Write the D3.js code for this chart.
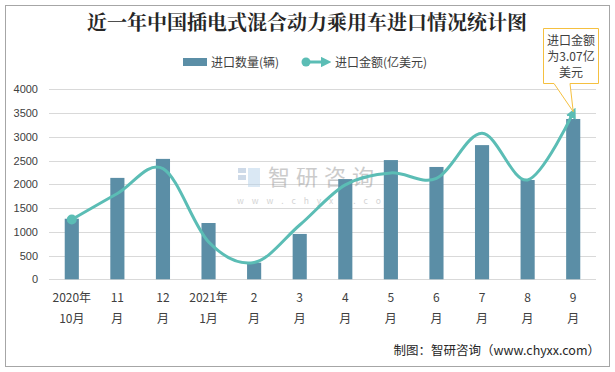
<!DOCTYPE html>
<html><head><meta charset="utf-8">
<script src="https://cdn.jsdelivr.net/npm/d3@7/dist/d3.min.js"></script>
<style>
html,body{margin:0;padding:0;background:#fff;}
svg{display:block;font-family:"Microsoft YaHei","Noto Sans CJK SC",sans-serif;}
</style></head>
<body>
<script>
const categories = [["2020年","10月"],["11","月"],["12","月"],["2021年","1月"],["2","月"],["3","月"],["4","月"],["5","月"],["6","月"],["7","月"],["8","月"],["9","月"]];
const quantity = [1275, 2135, 2535, 1185, 350, 955, 2110, 2510, 2365, 2825, 2090, 3375];
const amount = [1.10, 1.58, 2.04, 0.69, 0.31, 1.00, 1.74, 1.96, 1.86, 2.69, 1.83, 3.07];
const yTicks = [0, 500, 1000, 1500, 2000, 2500, 3000, 3500, 4000];
const titleText = "近一年中国插电式混合动力乘用车进口情况统计图";
const legendNames = ["进口数量(辆)", "进口金额(亿美元)"];
const calloutLines = ["进口金额", "为3.07亿", "美元"];
const sourceText = "制图：智研咨询（www.chyxx.com）";

(function(){
const W = 615, H = 372;
const svg = d3.select("body").append("svg").attr("width", W).attr("height", H);
const defs = svg.append("defs");
defs.append("marker").attr("id","arrow").attr("viewBox","0 0 10 10")
  .attr("refX",5).attr("refY",5).attr("markerWidth",3.6).attr("markerHeight",3.6)
  .attr("orient","auto").attr("markerUnits","strokeWidth")
  .append("path").attr("d","M0,0 L10,5 L0,10 z").attr("fill","#5bbdb5");

svg.append("rect").attr("x",5.5).attr("y",5.5).attr("width",604).attr("height",361)
  .attr("fill","#fff").attr("stroke","#a6a6a6").attr("stroke-width",1);

const pl = 49, pr = 596, pt = 89.3, pb = 279.3;
const x = d3.scaleBand().domain(d3.range(categories.length)).range([pl, pr]).paddingInner(0.69).paddingOuter(0.345);
const y = d3.scaleLinear().domain([0, 4000]).range([pb, pt]);
const y2 = d3.scaleLinear().domain([0, 3.5]).range([pb, pt]);

svg.append("g").selectAll("line").data(yTicks).join("line")
  .attr("x1", pl).attr("x2", pr)
  .attr("y1", d => Math.round(y(d))+0.5).attr("y2", d => Math.round(y(d))+0.5)
  .attr("stroke","#d9d9d9").attr("stroke-width",1);

const yAxis = d3.axisLeft(y).tickValues(yTicks).tickSize(0).tickPadding(0).tickFormat(d3.format("d"));
const ga = svg.append("g").attr("transform",`translate(38,0)`).call(yAxis);
ga.select(".domain").remove();
ga.selectAll("text").attr("fill","#404040").style("font-size","11px").style("font-family","Arial, 'Liberation Sans', sans-serif");

const wm = svg.append("g").attr("opacity",0.5);
wm.append("rect").attr("x",238).attr("y",168).attr("width",8).attr("height",5).attr("fill","#9fb6d3");
wm.append("rect").attr("x",238).attr("y",175).attr("width",8).attr("height",5).attr("fill","#9fb6d3");
wm.append("rect").attr("x",248).attr("y",168).attr("width",12).attr("height",19).attr("fill","#b7d3ea");
wm.append("text").attr("x",268).attr("y",185).text("智研咨询").attr("fill","#999").style("font-size","22px").style("letter-spacing","6px");
wm.append("text").attr("x",237).attr("y",204).text("w w w . c h y x x . c o m").attr("fill","#aaa").style("font-size","8.5px").style("letter-spacing","3px");

svg.append("g").selectAll("rect").data(quantity).join("rect")
  .attr("x",(d,i)=>x(i)).attr("width",x.bandwidth())
  .attr("y",d=>y(d)).attr("height",d=>y(0)-y(d))
  .attr("fill","#5b8ea6");

const line = d3.line().x((d,i)=>x(i)+x.bandwidth()/2).y(d=>y2(d)).curve(d3.curveCardinal.tension(0));
svg.append("path").datum(amount).attr("d",line).attr("fill","none")
  .attr("stroke","#5bbdb5").attr("stroke-width",3).attr("marker-end","url(#arrow)");
svg.append("circle").attr("cx",x(0)+x.bandwidth()/2).attr("cy",y2(amount[0])).attr("r",5).attr("fill","#5bbdb5");

const xl = svg.append("g");
categories.forEach((c,i)=>{
  const cx = x(i)+x.bandwidth()/2;
  xl.append("text").attr("x",cx).attr("y",302).attr("text-anchor","middle").text(c[0]).attr("fill","#404040").style("font-size","12px");
  xl.append("text").attr("x",cx).attr("y",323).attr("text-anchor","middle").text(c[1]).attr("fill","#404040").style("font-size","12px");
});

svg.append("text").attr("x",307).attr("y",30).attr("text-anchor","middle").text(titleText)
  .attr("fill","#262626").style("font-size","20px").style("font-weight","bold").style("font-family","'Noto Serif CJK SC','Noto Sans CJK SC',serif");

svg.append("rect").attr("x",183).attr("y",58).attr("width",24).attr("height",8).attr("fill","#5b8ea6");
svg.append("text").attr("x",211).attr("y",66.5).text(legendNames[0]).attr("fill","#404040").style("font-size","12px");
svg.append("line").attr("x1",304).attr("x2",326).attr("y1",62).attr("y2",62).attr("stroke","#5bbdb5").attr("stroke-width",3).attr("marker-end","url(#arrow)");
svg.append("circle").attr("cx",306).attr("cy",62).attr("r",4.5).attr("fill","#5bbdb5");
svg.append("text").attr("x",335).attr("y",66.5).text(legendNames[1]).attr("fill","#404040").style("font-size","12px");

const px = x(11)+x.bandwidth()/2, py = y2(amount[11]);
svg.append("path").attr("d",`M543.5,28.5 H598.5 V83.5 H570 L${px},${py-1} L554,83.5 H543.5 Z`)
  .attr("fill","#fff").attr("stroke","#f5c040").attr("stroke-width",1);
calloutLines.forEach((t,i)=>{
  svg.append("text").attr("x",571).attr("y",45+i*16).attr("text-anchor","middle").text(t).attr("fill","#404040").style("font-size","12px");
});

svg.append("text").attr("x",600).attr("y",355).attr("text-anchor","end").text(sourceText)
  .attr("fill","#262626").style("font-size","12.5px");
})();
</script>
</body></html>
